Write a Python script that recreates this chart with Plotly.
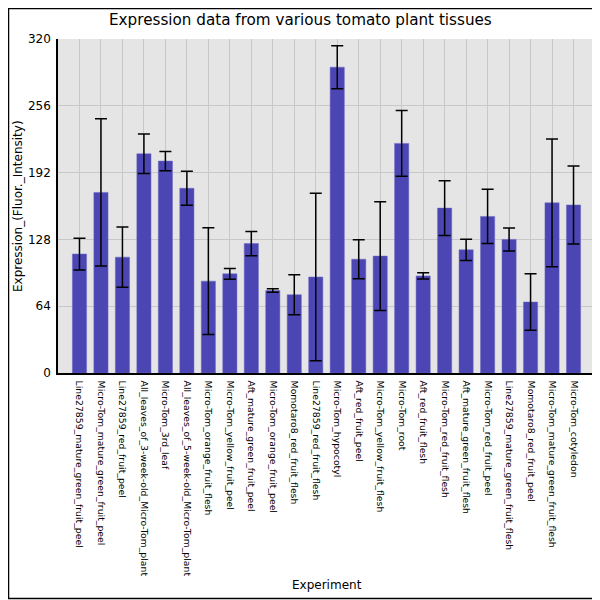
import plotly.graph_objects as go

# tissues on the x axis, in plotted order
experiments = [
    "Line27859_mature_green_fruit_peel",
    "Micro-Tom_mature_green_fruit_peel",
    "Line27859_red_fruit_peel",
    "All_leaves_of_3-week-old_Micro-Tom_plant",
    "Micro-Tom_3rd_leaf",
    "All_leaves_of_5-week-old_Micro-Tom_plant",
    "Micro-Tom_orange_fruit_flesh",
    "Micro-Tom_yellow_fruit_peel",
    "Aft_mature_green_fruit_peel",
    "Micro-Tom_orange_fruit_peel",
    "Momotaro8_red_fruit_flesh",
    "Line27859_red_fruit_flesh",
    "Micro-Tom_hypocotyl",
    "Aft_red_fruit_peel",
    "Micro-Tom_yellow_fruit_flesh",
    "Micro-Tom_root",
    "Aft_red_fruit_flesh",
    "Micro-Tom_red_fruit_flesh",
    "Aft_mature_green_fruit_flesh",
    "Micro-Tom_red_fruit_peel",
    "Line27859_mature_green_fruit_flesh",
    "Momotaro8_red_fruit_peel",
    "Micro-Tom_mature_green_fruit_flesh",
    "Micro-Tom_cotyledon",
]

# mean expression and error
expression = [114, 173, 111, 210, 203, 177, 88, 95, 124, 79, 75, 92,
              293, 109, 112, 220, 93, 158, 118, 150, 128, 68, 163, 161]
error = [15.2, 70.5, 28.8, 18.9, 9.3, 16.3, 51.2, 5.2, 11.6, 1.6, 19.2, 80.3,
         20.6, 18.7, 52, 31.6, 3, 26.3, 10.2, 26, 11, 27, 61.2, 37.3]

y_ticks = [0, 64, 128, 192, 256, 320]

FONT = "DejaVu Sans"

fig = go.Figure()
fig.add_trace(go.Bar(
    x=list(range(len(experiments))), y=expression,
    marker=dict(color="#4b46b3", line=dict(color="#6a66c4", width=0.5)),
    error_y=dict(type="data", array=error, visible=True,
                 color="black", thickness=1.5, width=6),
    width=0.66,
))

# the page puts the figure 8px in from the top-left corner,
# so the figure is 592 wide/high and the margins are shifted to match
W = H = 592
ml, mr, mt, mb = 50, 5, 31, 227
pw, ph = W - ml - mr, H - mt - mb

fig.update_layout(
    width=W, height=H,
    margin=dict(l=ml, r=mr, t=mt, b=mb, autoexpand=False),
    paper_bgcolor="white", plot_bgcolor="#e5e5e5",
    font=dict(family=FONT, color="black"),
    showlegend=False,
    xaxis=dict(range=[-1, len(experiments)], tickmode="array",
               tickvals=list(range(len(experiments))), ticktext=experiments,
               tickangle=90, tickfont=dict(size=9.3, family=FONT),
               showgrid=True, gridcolor="#c8c8c8", gridwidth=1,
               showline=True, linecolor="black", linewidth=1.5,
               ticks="outside", ticklen=4, tickcolor="rgba(0,0,0,0)",
               zeroline=False, automargin=False),
    yaxis=dict(range=[0, 320], tickvals=y_ticks,
               tickfont=dict(size=12, family=FONT),
               showgrid=True, gridcolor="#c8c8c8", gridwidth=1,
               showline=True, linecolor="black", linewidth=1.5,
               ticks="outside", ticklen=3, tickcolor="rgba(0,0,0,0)",
               zeroline=False, automargin=False),
)

# title and axis titles placed as in the reference
fig.add_annotation(text="Expression data from various tomato plant tissues",
                   xref="paper", yref="paper",
                   x=(292 - ml) / pw, y=(ph + mt - 12) / ph,
                   yanchor="middle", showarrow=False,
                   font=dict(size=15.2, family=FONT))
fig.add_annotation(text="Experiment", xref="paper", yref="paper",
                   x=0.5, y=-(577 - mt - ph) / ph, yanchor="middle",
                   showarrow=False, font=dict(size=12, family=FONT))
fig.add_annotation(text="Expression_(Fluor._Intensity)", xref="paper",
                   yref="paper", x=-(ml - 10) / pw, xanchor="center",
                   y=0.5, textangle=-90, showarrow=False,
                   font=dict(size=12, family=FONT))

# thin black frame around the whole picture
fig.add_shape(type="rect", xref="paper", yref="paper",
              x0=(0.5 - ml) / pw, x1=(590 - ml) / pw,
              y0=-(590.5 - mt - ph) / ph, y1=(ph + mt - 0.5) / ph,
              line=dict(color="black", width=1.5), layer="above")

fig.write_html("out.html")
